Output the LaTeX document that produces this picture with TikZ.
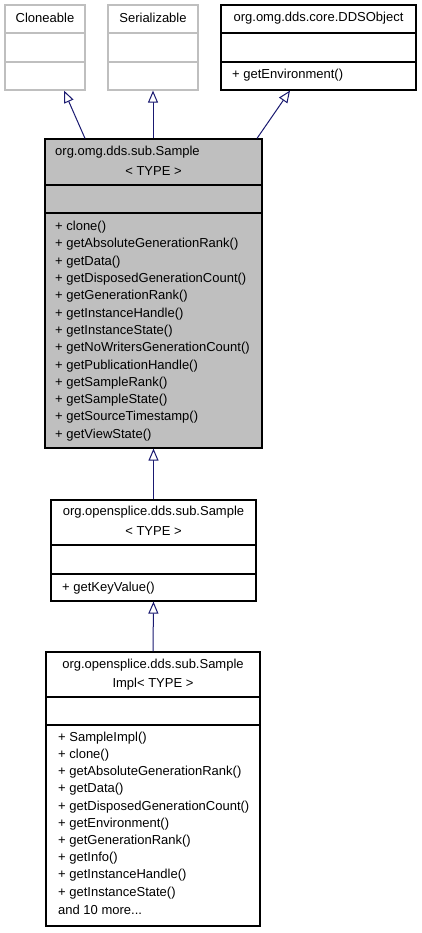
\documentclass[tikz,border=0pt]{standalone}
\usepackage{fontspec}
\setmainfont{Liberation Sans}
\usetikzlibrary{arrows.meta}

\definecolor{edgeblue}{HTML}{191970}
\definecolor{boxgray}{HTML}{BFBFBF}

\tikzset{
  classbox/.style={draw=black, line width=1.2pt, inner sep=0pt},
  extbox/.style={draw=boxgray, line width=1.2pt, inner sep=0pt},
  txt/.style={inner sep=0pt, font=\fontsize{13}{15}\selectfont},
  meth/.style={txt, anchor=west},
  inherit/.style={draw=edgeblue, line width=1pt,
    -{Triangle[open, length=12pt, width=10pt, fill=white]}},
}

\begin{document}
\begin{tikzpicture}[x=1pt, y=-1pt]% Example:
\useasboundingbox (0,0) rectangle (421,933);

% external interfaces
\node[extbox, minimum width=80pt, minimum height=85pt] (clone) at (45,47.5) {};
\draw[boxgray, line width=1.2pt] (5,33) -- (85,33) (5,62) -- (85,62);
\node[txt] at (45,18) {Cloneable};
\node[extbox, minimum width=90pt, minimum height=85pt] (serial) at (153,47.5) {};
\draw[boxgray, line width=1.2pt] (108,33) -- (198,33) (108,62) -- (198,62);
\node[txt] at (153,18) {Serializable};
\node[classbox, minimum width=195pt, minimum height=85pt] (ddsobj) at (318.5,47.5) {};
\draw[line width=1.2pt] (221,33) -- (416,33) (221,62) -- (416,62);
\node[txt] at (318.5,18) {org.omg.dds.core.DDSObject};
\node[meth] at (232,75) {+ getEnvironment()};

% org.omg.dds.sub.Sample
\node[classbox, fill=boxgray, minimum width=217pt, minimum height=309pt] (sample) at (153.5,293.5) {};
\draw[line width=1.2pt] (45,185) -- (262,185) (45,213) -- (262,213);
\node[meth] at (55,152) {org.omg.dds.sub.Sample};
\node[txt] at (153.5,171) {< TYPE >};
\foreach \m [count=\i from 0] in {clone(), getAbsoluteGenerationRank(), getData(),
    getDisposedGenerationCount(), getGenerationRank(), getInstanceHandle(),
    getInstanceState(), getNoWritersGenerationCount(), getPublicationHandle(),
    getSampleRank(), getSampleState(), getSourceTimestamp(), getViewState()}
    \node[meth] at (55, 227+17.33*\i) {+ \m};

% org.opensplice.dds.sub.Sample
\node[classbox, minimum width=205pt, minimum height=101pt] (ospl) at (153.5,550.5) {};
\draw[line width=1.2pt] (51,545) -- (256,545) (51,574) -- (256,574);
\node[txt] at (153.5,512) {org.opensplice.dds.sub.Sample};
\node[txt] at (153.5,531) {< TYPE >};
\node[meth] at (62,588) {+ getKeyValue()};

% org.opensplice.dds.sub.SampleImpl
\node[classbox, minimum width=214pt, minimum height=274pt] (impl) at (153,789) {};
\draw[line width=1.2pt] (46,697) -- (260,697) (46,725) -- (260,725);
\node[txt] at (153,665) {org.opensplice.dds.sub.Sample};
\node[txt] at (153,684) {Impl< TYPE >};
\foreach \m [count=\i from 0] in {SampleImpl(), clone(), getAbsoluteGenerationRank(),
    getData(), getDisposedGenerationCount(), getEnvironment(), getGenerationRank(),
    getInfo(), getInstanceHandle(), getInstanceState()}
    \node[meth] at (58, 738+17.2*\i) {+ \m};
\node[meth] at (58, 910) {and 10 more...};

% inheritance
\draw[inherit] ([xshift=-68.5pt]sample.north) -- ([xshift=19pt]clone.south);
\draw[inherit] (sample.north -| serial.south) -- (serial.south);
\draw[inherit] ([xshift=103.5pt]sample.north) -- ([xshift=-28.5pt]ddsobj.south);
\draw[inherit] (ospl.north) -- (sample.south);
\draw[inherit] (impl.north) -- (ospl.south);

\end{tikzpicture}
\end{document}
